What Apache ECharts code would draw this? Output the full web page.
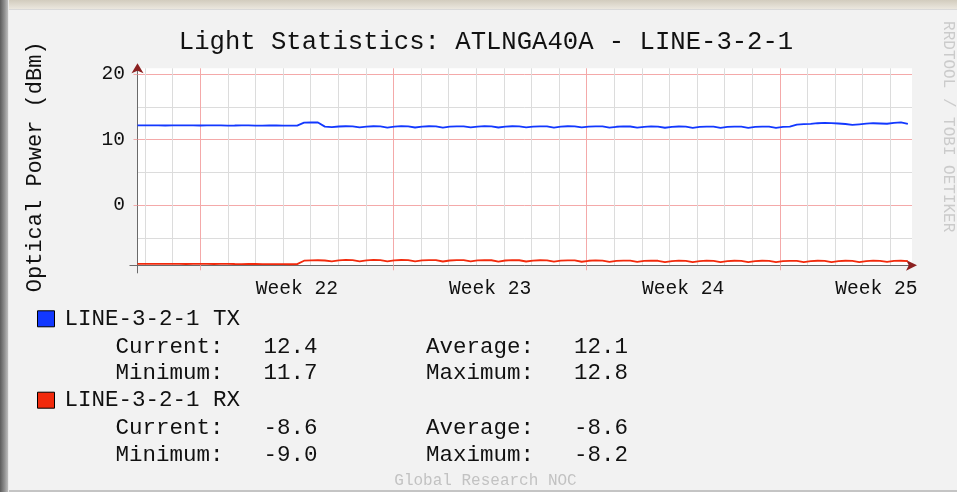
<!DOCTYPE html>
<html>
<head>
<meta charset="utf-8">
<script src="https://cdn.jsdelivr.net/npm/echarts@6/dist/echarts.min.js"></script>
<style>
html,body{margin:0;padding:0;width:957px;height:492px;overflow:hidden;background:#f2f2f2;}
#frameTop{position:absolute;left:0;top:0;width:957px;height:9px;background:linear-gradient(#d2ccbe,#ebe7de);border-bottom:1px solid #d9d9d9;z-index:2;}
#frameLeft{position:absolute;left:0;top:0;width:8px;height:492px;background:linear-gradient(to right,#5c5c5c,#8e8e8e 55%,#bdbdbd);border-right:1px solid #e9e9e9;z-index:3;}
#frameBottom{position:absolute;left:0;top:490px;width:957px;height:2px;background:#c4c4c4;z-index:2;}
#chart{position:absolute;left:0;top:0;width:957px;height:492px;}
</style>
</head>
<body>
<div id="frameTop"></div><div id="frameLeft"></div><div id="frameBottom"></div>
<div id="chart"></div>
<script>
// ---------- text ----------
const chartTitle = 'Light Statistics: ATLNGA40A - LINE-3-2-1';
const yAxisTitle = 'Optical Power (dBm)';
const seriesNames = ['LINE-3-2-1 TX', 'LINE-3-2-1 RX'];
const watermark = 'Global Research NOC';
const sideCredit = 'RRDTOOL / TOBI OETIKER';

// ---------- x axis (days since start of week 22) ----------
const weekLabels = ['Week 22', 'Week 23', 'Week 24', 'Week 25'];
const weekLabelPos = [3.5, 10.5, 17.5, 24.5];
const weekStarts = [0, 7, 14, 21];
const dayLines = [-2, -1, 1, 2, 3, 4, 5, 6, 8, 9, 10, 11, 12, 13, 15, 16, 17, 18, 19, 20, 22, 23, 24, 25];
const X_MIN = -2.275, X_MAX = 25.79;

// ---------- y axis ----------
const yMajor = [0, 10, 20];
const yLabels = ['0', '10', '20'];
const yMinor = [-5, 5, 15];
const Y_MIN = -9.15, Y_MAX = 20.87;

// ---------- series (sampled evenly from dataStart to dataEnd, in days) ----------
const dataStart = -2.275, dataEnd = 25.64;
const txValues = [
  12.17, 12.16, 12.18, 12.17, 12.15, 12.16, 12.18, 12.17, 12.16, 12.15, 12.17, 12.18,
  12.16, 12.14, 12.15, 12.17, 12.16, 12.14, 12.13, 12.15, 12.16, 12.14, 12.13, 12.14,
  12.58, 12.62, 12.61, 11.98,
  11.90, 12.00, 12.04, 12.03, 11.86, 11.97, 12.04, 12.02, 11.84, 11.98, 12.05, 12.03,
  11.85, 11.99, 12.04, 12.02, 11.84, 11.97, 12.03, 12.02, 11.86, 11.98, 12.05, 12.03,
  11.85, 11.99, 12.04, 12.02, 11.87, 11.98, 12.03, 12.03, 11.84, 11.97, 12.04, 12.02,
  11.86, 11.98, 12.03, 12.01, 11.83, 11.96, 12.02, 12.00, 11.82, 11.95, 12.01, 11.99,
  11.81, 11.94, 12.00, 11.98, 11.80, 11.94, 11.99, 11.97, 11.79, 11.93, 11.99, 11.97,
  11.80, 11.93, 11.98, 11.97, 11.79, 11.94, 11.98,
  12.30, 12.36, 12.40, 12.50, 12.55, 12.52, 12.46, 12.38, 12.24, 12.34, 12.44, 12.50,
  12.46, 12.42, 12.56, 12.64, 12.40
];
const rxValues = [
  -8.92, -8.93, -8.92, -8.94, -8.93, -8.92, -8.94, -8.95, -8.93, -8.92, -8.94, -8.95,
  -8.94, -8.93, -8.95, -8.96, -8.95, -8.94, -8.96, -8.97, -8.96, -8.98, -8.99, -8.97,
  -8.45, -8.40, -8.38, -8.42, -8.55, -8.40, -8.33, -8.36, -8.54, -8.40, -8.33, -8.35,
  -8.55, -8.40, -8.34, -8.36, -8.56, -8.41, -8.35, -8.37, -8.57, -8.42, -8.36, -8.37,
  -8.56, -8.41, -8.35, -8.38, -8.58, -8.42, -8.36, -8.38, -8.57, -8.43, -8.38, -8.40,
  -8.60, -8.45, -8.39, -8.41, -8.61, -8.46, -8.41, -8.43, -8.63, -8.48, -8.43, -8.45,
  -8.64, -8.49, -8.44, -8.46, -8.66, -8.50, -8.45, -8.47, -8.66, -8.50, -8.45, -8.48,
  -8.67, -8.51, -8.46, -8.48, -8.68, -8.52, -8.46, -8.48, -8.67, -8.51, -8.47, -8.49,
  -8.66, -8.50, -8.46, -8.47, -8.67, -8.51, -8.46, -8.49, -8.66, -8.50, -8.45, -8.47,
  -8.64, -8.49, -8.46, -8.50
];

// ---------- legend statistics (as printed) ----------
const statLabels = ['Current:', 'Average:', 'Minimum:', 'Maximum:'];
const txStats = ['12.4', '12.1', '11.7', '12.8'];
const rxStats = ['-8.6', '-8.6', '-9.0', '-8.2'];

// ---------- styles ----------
const FONT = 'Liberation Mono, DejaVu Sans Mono, monospace';
const TX_COLOR = '#1238ff';
const RX_COLOR = '#f22a0c';
const AXIS_COLOR = '#6a6a6a';
const ARROW_COLOR = '#8b2020';
const MINOR_GRID = '#dcdcdc';
const MAJOR_GRID = '#f4a9a9';
const TEXT_COLOR = '#111';

function toPairs(values) {
  const step = (dataEnd - dataStart) / (values.length - 1);
  return values.map((v, i) => [dataStart + i * step, v]);
}

const chart = echarts.init(document.getElementById('chart'), null, { renderer: 'canvas' });

const statRowsY = [[346.6, 373.3], [427.6, 454.8]];
const statCols = [115.5, 263.5, 426, 574];
const graphics = [];
[txStats, rxStats].forEach((stats, s) => {
  [0, 1].forEach(r => {
    const y = statRowsY[s][r];
    const parts = [statLabels[2 * r], stats[2 * r], statLabels[2 * r + 1], stats[2 * r + 1]];
    parts.forEach((txt, c) => {
      graphics.push({
        type: 'text', x: statCols[c], y: y, silent: true,
        style: { text: txt, font: '22.5px ' + FONT, fill: TEXT_COLOR, align: 'left', verticalAlign: 'middle' }
      });
    });
  });
});
graphics.push({
  type: 'text', x: 485.5, y: 481, silent: true,
  style: { text: watermark, font: '16px ' + FONT, fill: '#c2c2c2', align: 'center', verticalAlign: 'middle' }
});
graphics.push({
  type: 'text', x: 948, y: 126.7, rotation: -Math.PI / 2, silent: true,
  style: { text: sideCredit, font: '16px ' + FONT, fill: '#cbcbcb', align: 'center', verticalAlign: 'middle' }
});

const option = {
  animation: false,
  backgroundColor: 'transparent',
  title: {
    text: chartTitle, left: 481, textAlign: 'center', top: 24.7, padding: 5,
    textStyle: { fontFamily: FONT, fontSize: 25.6, fontWeight: 'normal', color: TEXT_COLOR }
  },
  legend: {
    orient: 'vertical', left: 37, top: 307.3, padding: 0,
    itemWidth: 17, itemHeight: 16, itemGap: 58.4, icon: 'rect', selectedMode: false,
    itemStyle: { borderColor: '#000', borderWidth: 1 },
    textStyle: { fontFamily: FONT, fontSize: 22.5, color: TEXT_COLOR, padding: [0, 0, 0, 5] },
    data: seriesNames
  },
  grid: [
    {
      left: 137.5, right: 45, top: 68.3, bottom: 226.7,
      show: true, backgroundColor: '#ffffff', borderWidth: 0,
      containLabel: false, outerBoundsMode: 'none'
    },
    {
      // slightly larger frame that only carries the axis arrows
      left: 137.5, right: 40, top: 63.3, bottom: 226.7,
      show: false, containLabel: false, outerBoundsMode: 'none'
    }
  ],
  xAxis: [
    {
      type: 'value', gridIndex: 0, min: X_MIN, max: X_MAX, position: 'bottom',
      axisLine: { show: true, onZero: false, lineStyle: { color: AXIS_COLOR, width: 1 } },
      axisTick: { show: false, customValues: dayLines },
      axisLabel: { show: false },
      splitLine: { show: true, lineStyle: { color: MINOR_GRID, width: 1 } }
    },
    {
      type: 'value', gridIndex: 0, min: X_MIN, max: X_MAX, position: 'bottom',
      axisLine: { show: false, onZero: false },
      axisTick: { show: true, customValues: weekStarts, length: 5, lineStyle: { color: MAJOR_GRID } },
      axisLabel: {
        show: true, customValues: weekLabelPos, margin: 13.2,
        formatter: v => weekLabels[weekLabelPos.indexOf(v)],
        fontFamily: FONT, fontSize: 19.6, color: TEXT_COLOR
      },
      splitLine: { show: true, lineStyle: { color: MAJOR_GRID, width: 1 } }
    },
    {
      type: 'value', gridIndex: 1, min: X_MIN, max: X_MAX, position: 'bottom',
      axisLine: { show: true, onZero: false, symbol: ['none', 'arrow'], symbolSize: [8, 11],
        lineStyle: { color: ARROW_COLOR, opacity: 0 } },
      axisTick: { show: true, customValues: [X_MIN], length: 8, lineStyle: { color: AXIS_COLOR } },
      axisLabel: { show: false },
      splitLine: { show: false }
    }
  ],
  yAxis: [
    {
      type: 'value', gridIndex: 0, min: Y_MIN, max: Y_MAX, position: 'left',
      name: yAxisTitle, nameLocation: 'middle', nameGap: 91, nameRotate: 90, nameMoveOverlap: false,
      nameTextStyle: { fontFamily: FONT, fontSize: 22, color: TEXT_COLOR },
      axisLine: { show: true, onZero: false, lineStyle: { color: AXIS_COLOR, width: 1 } },
      axisTick: { show: false, customValues: yMinor },
      axisLabel: { show: false },
      splitLine: { show: true, lineStyle: { color: MINOR_GRID, width: 1 } }
    },
    {
      type: 'value', gridIndex: 0, min: Y_MIN, max: Y_MAX, position: 'left',
      axisLine: { show: false, onZero: false },
      axisTick: { show: true, customValues: yMajor, length: 4, lineStyle: { color: MAJOR_GRID } },
      axisLabel: {
        show: true, customValues: yMajor, margin: 12.5,
        formatter: v => yLabels[yMajor.indexOf(v)],
        fontFamily: FONT, fontSize: 19.6, color: TEXT_COLOR
      },
      splitLine: { show: true, lineStyle: { color: MAJOR_GRID, width: 1 } }
    },
    {
      type: 'value', gridIndex: 1, min: Y_MIN, max: Y_MAX, position: 'left',
      axisLine: { show: true, onZero: false, symbol: ['none', 'arrow'], symbolSize: [9, 10],
        lineStyle: { color: ARROW_COLOR, opacity: 0 } },
      axisTick: { show: true, customValues: [Y_MIN], length: 8, lineStyle: { color: AXIS_COLOR } },
      axisLabel: { show: false },
      splitLine: { show: false }
    }
  ],
  series: [
    {
      name: seriesNames[0], type: 'line', xAxisIndex: 0, yAxisIndex: 0,
      data: toPairs(txValues), symbol: 'none', showSymbol: false, z: 5,
      lineStyle: { color: TX_COLOR, width: 1.8 }, itemStyle: { color: TX_COLOR }
    },
    {
      name: seriesNames[1], type: 'line', xAxisIndex: 0, yAxisIndex: 0,
      data: toPairs(rxValues), symbol: 'none', showSymbol: false, z: 5,
      lineStyle: { color: RX_COLOR, width: 1.8 }, itemStyle: { color: RX_COLOR }
    }
  ],
  graphic: graphics
};
chart.setOption(option);
</script>
</body>
</html>
